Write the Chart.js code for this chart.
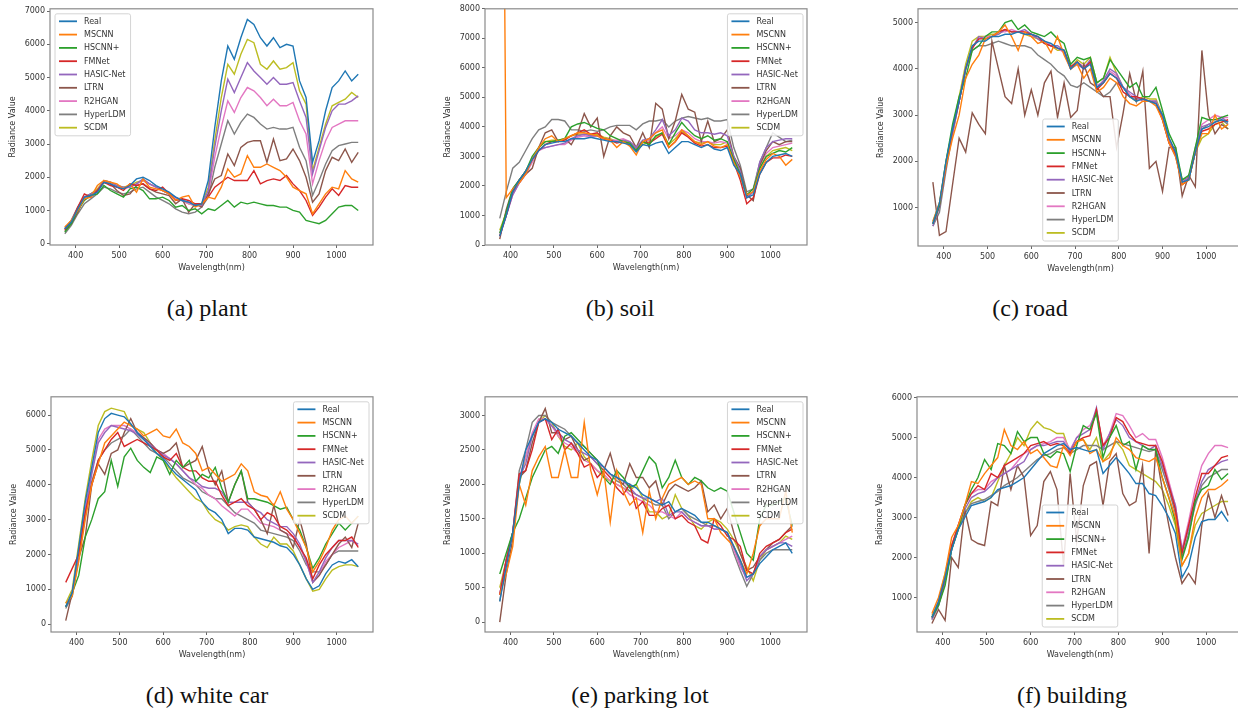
<!DOCTYPE html>
<html>
<head>
<meta charset="utf-8">
<script src="https://cdn.jsdelivr.net/npm/chart.js@4.4.0/dist/chart.umd.min.js"></script>
<style>
  body { margin: 0; width: 1238px; height: 715px; overflow: hidden; background: #fff; position: relative; }
  canvas { position: absolute; }
  .caption { position: absolute; font-family: "Liberation Serif", "Times New Roman", serif; font-size: 24px;
             line-height: 24px; color: #111; white-space: nowrap; transform: translateX(-50%); }
</style>
</head>
<body>
<script>
// wavelength bands (nm)
const wavelengths = [375, 390, 405, 420, 435, 450, 465, 480, 495, 510, 525, 540, 555, 570, 585, 600,
    615, 630, 645, 660, 675, 690, 705, 720, 735, 750, 765, 780, 795, 810, 825, 840, 855, 870, 885,
    900, 915, 930, 945, 960, 975, 990, 1005, 1020, 1035, 1050];
const methods = ['Real', 'MSCNN', 'HSCNN+', 'FMNet', 'HASIC-Net', 'LTRN', 'R2HGAN', 'HyperLDM', 'SCDM'];
const methodColors = ['#1f77b4', '#ff7f0e', '#2ca02c', '#d62728', '#9467bd', '#8c564b', '#e377c2', '#7f7f7f', '#bcbd22'];

const xTicks = [400, 500, 600, 700, 800, 900, 1000];
const plantTicks = [0, 1000, 2000, 3000, 4000, 5000, 6000, 7000];
const soilTicks = [0, 1000, 2000, 3000, 4000, 5000, 6000, 7000, 8000];
const roadTicks = [1000, 2000, 3000, 4000, 5000];
const carTicks = [0, 1000, 2000, 3000, 4000, 5000, 6000];
const parkingTicks = [0, 500, 1000, 1500, 2000, 2500, 3000];
const buildingTicks = [1000, 2000, 3000, 4000, 5000, 6000];

// (a) plant
const plantReal = [450, 650, 1050, 1400, 1450, 1550, 1850, 1800, 1700, 1650,
    1750, 1950, 2000, 1900, 1750, 1650, 1550, 1400, 1300, 1250,
    1150, 1200, 1900, 3500, 4900, 5950, 5550, 6200, 6750, 6600,
    6200, 5950, 6200, 5900, 6000, 5950, 4900, 4400, 2450, 3100,
    4000, 4700, 4900, 5200, 4900, 5100];
const plantMscnn = [500, 700, 1000, 1350, 1400, 1750, 1900, 1850, 1800, 1650,
    1800, 1550, 1950, 1700, 1650, 1600, 1500, 1300, 1400, 1450,
    1100, 1200, 1400, 1350, 1700, 2250, 2000, 2100, 2650, 2300,
    2300, 2400, 2300, 2200, 2000, 1700, 1600, 1500, 900, 1200,
    1500, 1700, 1650, 2200, 1950, 1850];
const plantHscnn = [350, 600, 1000, 1300, 1450, 1500, 1750, 1600, 1500, 1400,
    1650, 1700, 1600, 1350, 1350, 1400, 1300, 1100, 1150, 1000,
    1050, 900, 1050, 1000, 1150, 1300, 1100, 1250, 1200, 1250,
    1200, 1150, 1150, 1100, 1100, 1000, 950, 700, 650, 600,
    700, 900, 1100, 1150, 1150, 1000];
const plantFmnet = [400, 650, 1100, 1500, 1400, 1600, 1850, 1750, 1700, 1600,
    1800, 1750, 1800, 1650, 1600, 1700, 1500, 1300, 1350, 1300,
    1200, 1200, 1400, 1700, 1850, 2000, 1900, 1900, 1900, 2200,
    1800, 1900, 1950, 1900, 2050, 1800, 1600, 1300, 850, 1100,
    1400, 1650, 1450, 1750, 1700, 1700];
const plantHasic = [450, 700, 1100, 1400, 1500, 1600, 1900, 1850, 1750, 1700,
    1700, 1800, 1950, 1800, 1700, 1600, 1500, 1400, 1300, 1250,
    1200, 1150, 1600, 2900, 4000, 4950, 4550, 5000, 5450, 5200,
    5000, 4800, 5000, 4800, 4800, 4850, 4300, 3800, 2100, 2800,
    3500, 4000, 4200, 4200, 4300, 4450];
const plantLtrn = [450, 600, 950, 1400, 1500, 1600, 1850, 1800, 1600, 1450,
    1500, 1750, 1800, 1650, 1550, 1500, 1450, 1200, 1350, 950,
    1200, 1100, 1500, 1950, 2050, 2700, 2350, 2900, 3050, 3100,
    3100, 2450, 3150, 2500, 2550, 2850, 2500, 2000, 1250, 1500,
    2200, 2600, 2500, 2850, 2450, 2750];
const plantR2hgan = [400, 650, 1050, 1350, 1450, 1600, 1850, 1800, 1700, 1650,
    1700, 1800, 1900, 1800, 1700, 1600, 1500, 1350, 1300, 1200,
    1150, 1150, 1500, 2600, 3500, 4300, 3950, 4400, 4700, 4600,
    4400, 4150, 4350, 4150, 4150, 4250, 3700, 3300, 1800, 2500,
    3100, 3500, 3600, 3700, 3700, 3700];
const plantHyperldm = [300, 550, 900, 1200, 1350, 1500, 1700, 1650, 1550, 1500,
    1550, 1650, 1700, 1550, 1400, 1300, 1200, 1050, 950, 900,
    950, 1100, 1400, 2300, 3000, 3700, 3300, 3650, 3900, 3800,
    3600, 3450, 3500, 3450, 3450, 3500, 2900, 2500, 1450, 1900,
    2400, 2800, 2950, 3000, 3050, 3050];
const plantScdm = [450, 700, 1100, 1400, 1500, 1650, 1900, 1850, 1750, 1700,
    1750, 1850, 1900, 1800, 1700, 1600, 1500, 1350, 1300, 1200,
    1150, 1200, 1700, 3100, 4400, 5400, 5100, 5700, 6150, 6050,
    5400, 5250, 5500, 5250, 5300, 5450, 4600, 4200, 2200, 2900,
    3600, 4150, 4250, 4350, 4550, 4400];

// (b) soil
const soilReal = [300, 1000, 1800, 2200, 2500, 2900, 3200, 3400, 3450, 3500,
    3500, 3600, 3600, 3600, 3650, 3600, 3550, 3500, 3500, 3450,
    3400, 3150, 3400, 3350, 3450, 3500, 3100, 3300, 3500, 3500,
    3400, 3300, 3400, 3250, 3200, 3300, 2700, 2400, 1600, 1700,
    2400, 2800, 3000, 3050, 3100, 3000];
const soilMscnn = [30000, 1600, 1900, 2100, 2400, 2900, 3300, 3600, 3700, 3500,
    3600, 3700, 3800, 3800, 3750, 3700, 3600, 3550, 3300, 3500,
    3350, 3050, 3500, 3600, 3800, 3900, 3300, 3500, 3900, 3700,
    3500, 3400, 3500, 3350, 3300, 3400, 2800, 2300, 1700, 1800,
    2500, 2900, 3100, 3000, 2700, 2900];
const soilHscnn = [400, 1100, 1900, 2200, 2500, 3000, 3300, 3500, 3500, 3550,
    3600, 4000, 4100, 4150, 4050, 3950, 3900, 3700, 3600, 3500,
    3450, 3200, 3500, 3400, 3700, 3800, 3400, 3800, 4150, 3900,
    3700, 3600, 3700, 3550, 3600, 3500, 2900, 2400, 1700, 1900,
    2600, 3000, 3100, 3200, 3150, 3300];
const soilFmnet = [300, 1000, 1800, 2200, 2500, 2900, 3200, 3400, 3500, 3500,
    3550, 3700, 3800, 3900, 3750, 3800, 3600, 3550, 3450, 3500,
    3400, 3200, 3500, 3450, 3600, 3750, 3300, 3500, 3800, 3650,
    3450, 3350, 3400, 3300, 3300, 3350, 2800, 2200, 1400, 1600,
    2400, 2800, 2950, 2950, 3050, 3000];
const soilHasic = [300, 1000, 1700, 2100, 2400, 2900, 3250, 3300, 3350, 3400,
    3450, 3600, 3700, 3750, 3700, 3700, 3600, 3550, 3500, 3550,
    3500, 3300, 3550, 3600, 3900, 4250, 3700, 3900, 4300, 4200,
    3900, 3800, 3800, 3750, 3800, 3700, 3000, 2500, 1600, 1800,
    2800, 3300, 3500, 3550, 3600, 3600];
const soilLtrn = [200, 1200, 1900, 2200, 2400, 2600, 3300, 3800, 3900, 3500,
    3600, 3400, 3800, 4450, 4000, 4300, 3000, 3700, 4000, 3800,
    3700, 3300, 3800, 3300, 4800, 4600, 3600, 4200, 5100, 4600,
    4500, 3500, 4200, 3500, 3600, 3900, 3000, 2600, 1700, 1500,
    2700, 3200, 3500, 3400, 3500, 3500];
const soilR2hgan = [400, 1000, 1700, 2100, 2400, 2800, 3200, 3300, 3350, 3400,
    3400, 3550, 3650, 3700, 3650, 3700, 3600, 3550, 3550, 3600,
    3500, 3250, 3500, 3550, 3800, 4000, 3600, 3700, 3900, 3800,
    3600, 3500, 3500, 3450, 3500, 3450, 2900, 2400, 1600, 1800,
    2700, 3100, 3300, 3350, 3400, 3450];
const soilHyperldm = [900, 1800, 2600, 2800, 3200, 3600, 3900, 4000, 4250, 4250,
    4200, 3900, 3900, 3850, 3900, 3850, 3900, 4000, 4050, 4050,
    4050, 3900, 4100, 4200, 4200, 4250, 4000, 4200, 4300, 4350,
    4300, 4250, 4300, 4200, 4200, 4250, 3300, 2700, 1800, 1900,
    2800, 3300, 3800, 3650, 3500, 3550];
const soilScdm = [500, 1100, 1800, 2200, 2500, 2900, 3300, 3500, 3550, 3550,
    3600, 3700, 3750, 3750, 3750, 3750, 3650, 3600, 3500, 3550,
    3450, 3200, 3400, 3500, 3650, 3800, 3400, 3600, 3850, 3700,
    3500, 3450, 3500, 3400, 3400, 3500, 2800, 2300, 1700, 1800,
    2600, 3000, 3200, 3250, 3300, 3200];

// (c) road
const roadReal = [650, 1100, 2000, 2700, 3300, 4000, 4500, 4600, 4600, 4700,
    4700, 4750, 4750, 4800, 4750, 4750, 4700, 4600, 4550, 4450,
    4400, 4000, 4150, 4000, 4100, 3600, 3700, 3900, 3800, 3600,
    3400, 3300, 3350, 3300, 3250, 3000, 2500, 2200, 1550, 1600,
    2200, 2700, 2750, 2850, 2900, 2850];
const roadMscnn = [700, 1100, 1900, 2500, 3000, 3800, 4100, 4300, 4650, 4700,
    4800, 4950, 4700, 4400, 4800, 4700, 4550, 4600, 4350, 4700,
    4300, 4000, 4100, 3800, 4000, 3500, 3600, 3800, 3700, 3400,
    3250, 3200, 3300, 3300, 3200, 2900, 2400, 2100, 1500, 1600,
    2200, 2600, 2600, 3000, 2700, 2800];
const roadHscnn = [650, 1050, 2000, 2800, 3400, 3800, 4400, 4500, 4700, 4800,
    4800, 5000, 5050, 4850, 4950, 4800, 4750, 4700, 4800, 4650,
    4550, 4100, 4250, 4200, 4250, 3700, 3800, 4200, 4000, 3800,
    3600, 3700, 3400, 3400, 3600, 3100, 2600, 2300, 1600, 1700,
    2300, 2950, 2900, 2900, 2950, 3000];
const roadFmnet = [650, 1050, 1900, 2700, 3300, 4000, 4450, 4650, 4650, 4700,
    4800, 4850, 4800, 4800, 4800, 4750, 4700, 4550, 4500, 4450,
    4400, 4050, 4150, 4000, 4150, 3550, 3700, 3900, 3800, 3500,
    3400, 3400, 3350, 3300, 3250, 2900, 2400, 2150, 1500, 1600,
    2200, 2650, 2700, 2800, 2850, 2900];
const roadHasic = [600, 1000, 1900, 2600, 3300, 4000, 4450, 4700, 4650, 4700,
    4750, 4850, 4800, 4800, 4850, 4750, 4650, 4550, 4500, 4500,
    4400, 4000, 4100, 4000, 4200, 3600, 3750, 4000, 3900, 3600,
    3500, 3400, 3300, 3300, 3300, 2900, 2400, 2100, 1550, 1650,
    2300, 2750, 2800, 2850, 2950, 2850];
const roadLtrn = [1550, 400, 480, 1500, 2500, 2200, 3050, 2800, 2600, 4600,
    4000, 3400, 3250, 4000, 3000, 3550, 3000, 3700, 3950, 2950,
    3700, 2950, 3100, 4100, 3700, 3600, 3400, 3400, 2300, 3050,
    3900, 3300, 3950, 1850, 2000, 1350, 2300, 2300, 1250, 1700,
    1450, 4400, 3000, 2600, 2800, 2700];
const roadR2hgan = [650, 1050, 1950, 2650, 3300, 4000, 4450, 4650, 4700, 4700,
    4800, 4800, 4850, 4800, 4800, 4700, 4700, 4600, 4500, 4450,
    4350, 4000, 4150, 4050, 4150, 3650, 3700, 3950, 3850, 3600,
    3450, 3350, 3350, 3300, 3300, 2950, 2450, 2150, 1550, 1650,
    2250, 2800, 2900, 3000, 2950, 2950];
const roadHyperldm = [600, 900, 1800, 2600, 3300, 4000, 4400, 4500, 4500, 4550,
    4600, 4550, 4500, 4500, 4500, 4450, 4300, 4200, 4100, 3950,
    3850, 3650, 3600, 3700, 3600, 3500, 3400, 3500, 3700, 3600,
    3400, 3350, 3350, 3300, 3300, 3000, 2500, 2200, 1600, 1650,
    2200, 2700, 2800, 2850, 2900, 2800];
const roadScdm = [700, 1100, 2000, 2700, 3400, 4100, 4600, 4700, 4700, 4750,
    4750, 4850, 4800, 4800, 4750, 4700, 4650, 4550, 4500, 4400,
    4400, 4000, 4200, 4100, 4250, 3700, 3800, 4250, 3900, 3600,
    3400, 3300, 3400, 3350, 3350, 3000, 2450, 2150, 1500, 1600,
    2200, 2500, 2600, 2800, 2850, 2700];

// (d) white car
const carReal = [500, 900, 2200, 3500, 4500, 5500, 5900, 6050, 6000, 5950,
    5750, 5500, 5300, 5100, 4900, 4750, 4500, 4300, 4150, 4000,
    3850, 3500, 3300, 3200, 3000, 2600, 2750, 2750, 2700, 2500,
    2450, 2400, 2350, 2250, 2200, 2000, 1700, 1300, 1000, 1100,
    1450, 1700, 1800, 1750, 1850, 1650];
const carMscnn = [600, 800, 1800, 3000, 4000, 4600, 5200, 5400, 5600, 5800,
    5700, 5600, 5400, 5500, 5600, 5400, 5350, 5600, 5200, 5100,
    4900, 4400, 4500, 4300, 4100, 4200, 4300, 4600, 4400, 3800,
    3700, 3650, 3400, 3800, 3300, 3000, 2600, 2200, 1500, 1800,
    2200, 2700, 3000, 3100, 2900, 3100];
const carHscnn = [500, 900, 1400, 2500, 3000, 3600, 3800, 4700, 3950, 4800,
    5050, 4700, 4500, 4350, 4800, 4700, 4300, 4700, 4500, 4700,
    4100, 4300, 4200, 4500, 3900, 3500, 4000, 4400, 3600, 3600,
    3550, 3500, 3400, 3300, 3350, 3000, 2700, 2200, 1600, 1900,
    2300, 2600, 2900, 2700, 2900, 3100];
const carFmnet = [1200, 1600, 2000, 3200, 4000, 4700, 5000, 5300, 5500, 5100,
    5200, 5300, 5200, 5100, 5000, 4800, 4700, 4900, 4500, 4400,
    4400, 4200, 4100, 4100, 3700, 3400, 3500, 3600, 3400, 3300,
    3000, 3200, 3100, 2800, 2700, 2500, 2200, 1900, 1300, 1700,
    2000, 2200, 2400, 2400, 2500, 2200];
const carHasic = [500, 900, 2000, 3200, 4300, 5200, 5500, 5700, 5650, 5600,
    5550, 5450, 5300, 5150, 5000, 4850, 4750, 4600, 4400, 4200,
    4100, 3950, 3900, 3900, 3800, 3500, 3500, 3500, 3500, 3300,
    3200, 3000, 2900, 2800, 2800, 2600, 2300, 1800, 1200, 1500,
    1900, 2200, 2400, 2400, 2400, 2300];
const carLtrn = [100, 900, 1900, 2500, 4000, 4600, 4300, 4900, 5000, 5500,
    5900, 5500, 5350, 5200, 5000, 4900, 5000, 5200, 4500, 4600,
    4700, 5100, 4400, 4000, 4400, 3500, 4000, 4400, 3500, 3300,
    3000, 2600, 3400, 2700, 2600, 2200, 3000, 2300, 1200, 1400,
    1700, 2000, 2300, 2500, 2200, 2900];
const carR2hgan = [500, 900, 2100, 3300, 4400, 5300, 5600, 5700, 5700, 5700,
    5600, 5500, 5350, 5200, 5000, 4900, 4750, 4600, 4400, 4200,
    4000, 3900, 3700, 3600, 3400, 3250, 3100, 3300, 3300, 3100,
    2900, 2850, 2800, 2700, 2600, 2500, 2200, 1800, 1200, 1400,
    1800, 2000, 2200, 2300, 2400, 2250];
const carHyperldm = [450, 800, 1900, 3100, 4100, 4700, 5000, 5200, 5300, 5400,
    5600, 5400, 5200, 5000, 4900, 4800, 4600, 4400, 4200, 4100,
    4000, 3800, 3700, 3600, 3600, 3400, 3200, 3100, 3000, 2900,
    2700, 2650, 2600, 2550, 2500, 2400, 2100, 1700, 1500, 1500,
    1700, 2000, 2100, 2100, 2100, 2100];
const carScdm = [600, 1000, 2300, 3600, 4700, 5700, 6100, 6200, 6150, 6100,
    5700, 5600, 5500, 5200, 4900, 4700, 4450, 4200, 4000, 3800,
    3600, 3500, 3200, 3000, 2900, 2700, 2800, 2850, 2800, 2500,
    2300, 2200, 2500, 2300, 2300, 2100, 1700, 1300, 950, 1000,
    1300, 1550, 1650, 1700, 1700, 1650];

// (e) parking lot
const parkingReal = [300, 800, 1300, 2000, 2500, 2700, 2900, 2950, 2900, 2800,
    2750, 2700, 2600, 2500, 2400, 2350, 2250, 2150, 2100, 2050,
    2000, 1950, 1850, 1800, 1750, 1700, 1750, 1600, 1650, 1600,
    1550, 1450, 1450, 1400, 1350, 1300, 1100, 900, 650, 700,
    850, 950, 1050, 1100, 1150, 1000];
const parkingMscnn = [400, 700, 1100, 2000, 1700, 2200, 2400, 2550, 2100, 2100,
    2500, 2100, 2100, 2900, 2200, 1850, 2200, 1450, 2200, 1900,
    1700, 1800, 1300, 1900, 1500, 1800, 2000, 2050, 2100, 2000,
    2050, 2000, 1500, 1500, 1300, 1200, 1100, 900, 700, 1000,
    1400, 1500, 1500, 1500, 1900, 1300];
const parkingHscnn = [700, 1000, 1300, 1500, 1800, 2100, 2300, 2500, 2550, 2450,
    2700, 2750, 2650, 2550, 2450, 2350, 2100, 2000, 2200, 2100,
    1950, 2000, 2200, 2400, 2300, 1950, 2100, 2350, 2100, 2000,
    2100, 2050, 1950, 1900, 1950, 1900, 1600, 1300, 1000, 900,
    1500, 1700, 1700, 1750, 1800, 1400];
const parkingFmnet = [400, 900, 1300, 2150, 2200, 2500, 2900, 2950, 2650, 2800,
    2500, 2600, 2450, 2250, 2300, 2100, 2200, 2100, 1950, 1850,
    2000, 1650, 1750, 1550, 1550, 1650, 1700, 1500, 1550, 1450,
    1400, 1200, 1150, 1500, 1400, 1250, 1200, 1100, 750, 700,
    1000, 1100, 1150, 1200, 1300, 1350];
const parkingHasic = [400, 900, 1300, 2100, 2300, 2700, 2900, 2950, 2850, 2750,
    2650, 2600, 2500, 2450, 2400, 2300, 2250, 2150, 2100, 2050,
    1950, 1850, 1800, 1800, 1750, 1800, 1550, 1600, 1600, 1500,
    1450, 1400, 1400, 1350, 1350, 1300, 1100, 850, 600, 700,
    950, 1050, 1100, 1150, 1150, 1100];
const parkingLtrn = [0, 700, 1200, 2100, 2200, 2600, 2900, 3100, 2750, 2750,
    2650, 2700, 2500, 2350, 2400, 2300, 2200, 2450, 2100, 2000,
    2300, 2100, 2100, 1950, 2050, 1700, 1900, 2000, 1950, 1900,
    1950, 2050, 1600, 1700, 1500, 1650, 1300, 1000, 750, 800,
    950, 1050, 1150, 1200, 1300, 1400];
const parkingR2hgan = [400, 900, 1300, 2100, 2400, 2750, 2950, 2950, 2850, 2700,
    2600, 2550, 2450, 2350, 2300, 2200, 2150, 2050, 2000, 1950,
    1850, 1800, 1750, 1700, 1600, 1600, 1550, 1500, 1600, 1500,
    1450, 1400, 1400, 1350, 1350, 1300, 1050, 800, 650, 700,
    950, 1050, 1100, 1150, 1200, 1250];
const parkingHyperldm = [300, 900, 1300, 2200, 2500, 2900, 3000, 3000, 2900, 2850,
    2800, 2700, 2600, 2550, 2450, 2350, 2250, 2150, 2050, 2000,
    1900, 1850, 1800, 1750, 1700, 1700, 1500, 1600, 1650, 1550,
    1500, 1450, 1400, 1400, 1350, 1300, 1000, 750, 520, 700,
    900, 1000, 1050, 1050, 1050, 1050];
const parkingScdm = [500, 900, 1300, 2000, 2400, 2700, 2900, 3000, 2900, 2700,
    2550, 2500, 2600, 2400, 2300, 2200, 2100, 2050, 2000, 1950,
    1900, 2000, 1800, 1600, 1600, 1500, 1550, 1850, 1650, 1550,
    1400, 1350, 1450, 1500, 1450, 1350, 1200, 1000, 800, 600,
    900, 1050, 1100, 1150, 1250, 1200];

// (f) building
const buildingReal = [500, 900, 1500, 2200, 2700, 3000, 3300, 3350, 3400, 3500,
    3700, 3750, 3800, 3900, 4000, 4200, 4400, 4600, 4700, 4800,
    4850, 4700, 4750, 4700, 4650, 4700, 4100, 4300, 4500, 4300,
    4100, 3850, 3850, 3600, 3550, 3300, 3000, 2600, 1500, 1800,
    2500, 2900, 2950, 2950, 3150, 2900];
const buildingMscnn = [600, 1000, 1600, 2500, 2800, 3300, 3900, 3850, 4100, 4300,
    4500, 5200, 4800, 4700, 4900, 4600, 4700, 4500, 4300, 4250,
    4800, 4550, 4900, 4950, 4600, 4700, 4400, 4500, 5000, 4800,
    4700, 4500, 4450, 4400, 4500, 4000, 3500, 3000, 1800, 2100,
    3000, 3500, 3700, 3700, 3800, 3950];
const buildingHscnn = [500, 800, 1300, 2200, 2700, 3300, 3700, 4000, 4450, 4200,
    4850, 4800, 4600, 5150, 4900, 5000, 5000, 4600, 4500, 4650,
    4600, 4150, 4800, 5300, 5200, 5600, 4500, 5000, 5300, 4800,
    4900, 4200, 4800, 4700, 4700, 4000, 3500, 2900, 1950, 2500,
    3400, 3700, 3800, 4200, 3950, 4100];
const buildingFmnet = [500, 850, 1500, 2300, 2800, 3300, 3600, 3800, 3700, 4100,
    4000, 4300, 4400, 4500, 4600, 4800, 4850, 4900, 4800, 4850,
    4800, 4600, 4900, 5000, 5050, 5700, 4800, 5000, 5500, 5400,
    5100, 4900, 4850, 4800, 4800, 4400, 3800, 3200, 2100, 2800,
    3500, 4100, 4100, 4300, 4500, 4550];
const buildingHasic = [450, 800, 1400, 2200, 2800, 3200, 3500, 3600, 3650, 3800,
    4000, 4100, 4200, 4300, 4400, 4700, 4800, 4800, 4850, 4900,
    4900, 4650, 5000, 5100, 5200, 5750, 4700, 5100, 5450, 5300,
    5000, 4900, 4800, 4700, 4800, 4300, 3800, 3300, 2200, 2700,
    3400, 3900, 4200, 4300, 4400, 4450];
const buildingLtrn = [350, 700, 430, 2000, 1750, 3200, 2450, 2350, 2300, 3400,
    3300, 4300, 3700, 4300, 4000, 2550, 2800, 3900, 4150, 3700,
    1800, 4100, 2400, 3800, 4300, 4400, 3300, 4400, 4600, 3600,
    3300, 3400, 4300, 2100, 4700, 3700, 2800, 2000, 1350, 1600,
    1350, 2800, 3600, 3000, 3550, 3050];
const buildingR2hgan = [500, 900, 1500, 2300, 2800, 3300, 3600, 3700, 3700, 3900,
    4000, 4100, 4200, 4400, 4600, 4700, 4800, 4850, 4900, 5000,
    5000, 4700, 5000, 5200, 5300, 5650, 4800, 5100, 5600, 5550,
    5300, 5000, 5100, 4950, 4950, 4500, 3900, 3300, 2200, 2900,
    3700, 4300, 4600, 4800, 4800, 4750];
const buildingHyperldm = [450, 800, 1400, 2200, 2700, 3100, 3350, 3400, 3450, 3550,
    3650, 3800, 3900, 4000, 4150, 4300, 4450, 4550, 4600, 4700,
    4750, 4600, 4700, 4800, 4800, 4800, 4700, 4800, 4900, 4850,
    4800, 4750, 4700, 4650, 4700, 4200, 3700, 3100, 2000, 2600,
    3300, 3800, 4000, 4100, 4200, 4200];
const buildingScdm = [550, 900, 1600, 2300, 2700, 3100, 3400, 3500, 3400, 3500,
    3900, 4300, 4600, 5000, 4800, 5200, 5400, 5250, 5200, 5100,
    5100, 4600, 4900, 4950, 4700, 5000, 4400, 4600, 4900, 4700,
    4300, 4200, 4100, 4000, 3900, 3700, 3300, 2800, 1800, 2100,
    2800, 3100, 3200, 3300, 3400, 3400];

// page layout: chart area [left, top, right, bottom] in page pixels
const panels = [
    { series: [plantReal, plantMscnn, plantHscnn, plantFmnet, plantHasic, plantLtrn, plantR2hgan, plantHyperldm, plantScdm],
      yMin: -40, yMax: 7070, yTicks: plantTicks, area: [50, 5, 373, 245], legend: 'upper left', caption: '(a) plant', capX: 207, capY: 308 },
    { series: [soilReal, soilMscnn, soilHscnn, soilFmnet, soilHasic, soilLtrn, soilR2hgan, soilHyperldm, soilScdm],
      yMin: 0, yMax: 8000, yTicks: soilTicks, area: [485, 5, 807, 245], legend: 'upper right', caption: '(b) soil', capX: 620, capY: 308 },
    { series: [roadReal, roadMscnn, roadHscnn, roadFmnet, roadHasic, roadLtrn, roadR2hgan, roadHyperldm, roadScdm],
      yMin: 170, yMax: 5300, yTicks: roadTicks, area: [918, 5, 1243, 246], legend: 'lower center', caption: '(c) road', capX: 1030, capY: 308 },
    { series: [carReal, carMscnn, carHscnn, carFmnet, carHasic, carLtrn, carR2hgan, carHyperldm, carScdm],
      yMin: -225, yMax: 6525, yTicks: carTicks, area: [51, 393, 373, 632], legend: 'upper right', caption: '(d) white car', capX: 207, capY: 695 },
    { series: [parkingReal, parkingMscnn, parkingHscnn, parkingFmnet, parkingHasic, parkingLtrn, parkingR2hgan, parkingHyperldm, parkingScdm],
      yMin: -143, yMax: 3271, yTicks: parkingTicks, area: [485, 393, 807, 632], legend: 'upper right', caption: '(e) parking lot', capX: 640, capY: 695 },
    { series: [buildingReal, buildingMscnn, buildingHscnn, buildingFmnet, buildingHasic, buildingLtrn, buildingR2hgan, buildingHyperldm, buildingScdm],
      yMin: 136, yMax: 6020, yTicks: buildingTicks, area: [917, 393, 1243, 632], legend: 'lower center', caption: '(f) building', capX: 1072, capY: 695 }
];

const tickFont = { family: 'DejaVu Sans', size: 8 };

// axes frame + matplotlib-like legend box inside the plot
const frameAndLegend = {
    id: 'frameAndLegend',
    afterDatasetsDraw(chart, args, opts) {
        const { ctx, chartArea: a } = chart;
        ctx.save();
        ctx.strokeStyle = '#8a8a8a';
        ctx.lineWidth = 1.2;
        ctx.strokeRect(a.left, a.top, a.right - a.left, a.bottom - a.top);

        ctx.font = '8px "DejaVu Sans"';
        const textW = Math.max(...methods.map(m => ctx.measureText(m).width));
        const w = 29 + textW + 5, rowH = 13.3, h = 122;
        let x, y;
        if (opts.loc === 'upper left') { x = a.left + 5; y = a.top + 5; }
        else if (opts.loc === 'upper right') { x = a.right - 4 - w; y = a.top + 5; }
        else { x = (a.left + a.right) / 2 - w / 2; y = a.bottom - 5 - h; }

        ctx.fillStyle = 'rgba(255,255,255,0.85)';
        ctx.strokeStyle = '#d4d4d4';
        ctx.lineWidth = 1;
        ctx.beginPath();
        ctx.roundRect(x, y, w, h, 2);
        ctx.fill();
        ctx.stroke();

        ctx.textBaseline = 'middle';
        methods.forEach((m, i) => {
            const cy = y + 7.5 + i * rowH;
            ctx.strokeStyle = methodColors[i];
            ctx.lineWidth = 1.8;
            ctx.beginPath();
            ctx.moveTo(x + 4, cy);
            ctx.lineTo(x + 22, cy);
            ctx.stroke();
            ctx.fillStyle = '#333';
            ctx.fillText(m, x + 29, cy + 0.5);
        });
        ctx.restore();
    }
};

panels.forEach(p => {
    const [L, T, R, B] = p.area;
    const canvas = document.createElement('canvas');
    canvas.width = R - L + 53;
    canvas.height = B - T + 43;
    canvas.style.left = (L - 50) + 'px';
    canvas.style.top = (T - 3) + 'px';
    canvas.style.width = canvas.width + 'px';
    canvas.style.height = canvas.height + 'px';
    document.body.appendChild(canvas);

    const cap = document.createElement('div');
    cap.className = 'caption';
    cap.textContent = p.caption;
    cap.style.left = p.capX + 'px';
    cap.style.top = (p.capY - 12) + 'px';
    document.body.appendChild(cap);

    const datasets = p.series.map((values, i) => ({
        label: methods[i],
        data: values.map((v, j) => ({ x: wavelengths[j], y: v })),
        borderColor: methodColors[i],
        borderWidth: 1.4,
        pointRadius: 0,
        tension: 0,
        fill: false
    }));

    new Chart(canvas, {
        type: 'line',
        data: { datasets: datasets },
        options: {
            responsive: false,
            animation: false,
            events: [],
            layout: { padding: { top: 3, right: 3, left: 0, bottom: 0 } },
            plugins: {
                legend: { display: false },
                tooltip: { enabled: false },
                frameAndLegend: { loc: p.legend }
            },
            scales: {
                x: {
                    type: 'linear',
                    min: 341,
                    max: 1084,
                    afterBuildTicks: axis => { axis.ticks = xTicks.map(v => ({ value: v })); },
                    afterFit: scale => { scale.height = 40; },
                    ticks: { font: tickFont, color: '#333', padding: 3, maxRotation: 0, autoSkip: false,
                             callback: v => String(v) },
                    grid: { display: true, drawOnChartArea: false, drawTicks: true, tickLength: 3, color: '#666' },
                    border: { display: false },
                    title: { display: true, text: 'Wavelength(nm)', font: tickFont, color: '#333', padding: { top: 0, bottom: 12 } }
                },
                y: {
                    min: p.yMin,
                    max: p.yMax,
                    afterBuildTicks: axis => { axis.ticks = p.yTicks.map(v => ({ value: v })); },
                    afterFit: scale => { scale.width = 50; },
                    ticks: { font: tickFont, color: '#333', padding: 2, callback: v => String(v) },
                    grid: { display: true, drawOnChartArea: false, drawTicks: true, tickLength: 3, color: '#666' },
                    border: { display: false },
                    title: { display: true, text: 'Radiance Value', font: tickFont, color: '#333', padding: { top: 8, bottom: 0 } }
                }
            }
        },
        plugins: [frameAndLegend]
    });
});
</script>
</body>
</html>
